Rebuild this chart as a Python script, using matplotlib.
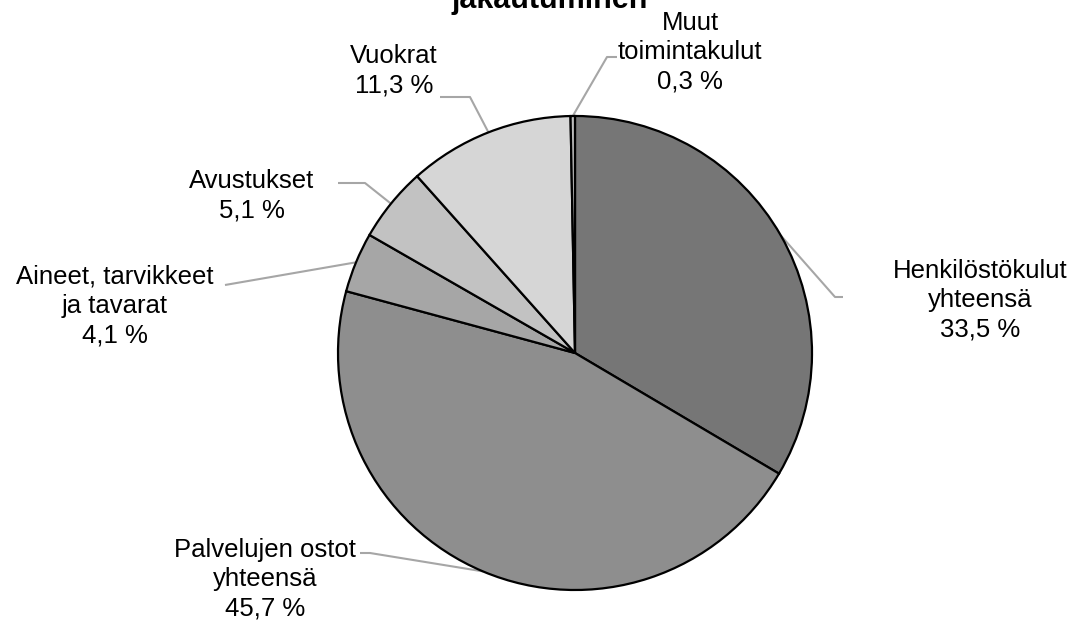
import numpy as np
import matplotlib
matplotlib.use("Agg")
import matplotlib.pyplot as plt

plt.rcParams['font.family'] = ['Liberation Sans', 'DejaVu Sans']

categories = ["Henkilöstökulut\nyhteensä", "Palvelujen ostot\nyhteensä",
              "Aineet, tarvikkeet\nja tavarat", "Avustukset", "Vuokrat",
              "Muut\ntoimintakulut"]
values = [33.5, 45.7, 4.1, 5.1, 11.3, 0.3]
colors = ["#767676", "#8e8e8e", "#a6a6a6", "#c2c2c2", "#d6d6d6", "#bdbdbd"]
title = "jakautuminen"

W, H = 1079, 622
fig = plt.figure(figsize=(W / 100, H / 100), dpi=100)
ax = fig.add_axes([0, 0, 1, 1])

cx, cy, R = 575, H - 353, 237
wedges, _ = ax.pie(values, colors=colors, startangle=90, counterclock=False,
                   center=(cx, cy), radius=R, frame=True,
                   wedgeprops=dict(edgecolor='black', linewidth=1.6))
ax.set_xlim(0, W)
ax.set_ylim(0, H)
ax.set_aspect('equal')
ax.axis('off')

# label text positions (pixel coords from top), elbow and end of leader lines
label_pos = [(980, 300), (265, 579), (115, 306), (252, 196), (394, 71), (690, 52)]
elbows = [(835, 297), (370, 553), None, (365, 183), (470, 97), (607, 57)]
ends = [(843, 297), (360, 553), (225, 285), (338, 183), (440, 97), (617, 57)]

for w, val, cat, lp, el, en in zip(wedges, values, categories, label_pos, elbows, ends):
    ang = np.deg2rad((w.theta1 + w.theta2) / 2)
    ax_pt = (cx + R * np.cos(ang), cy + R * np.sin(ang))
    pts = [ax_pt]
    if el is not None:
        pts.append((el[0], H - el[1]))
    pts.append((en[0], H - en[1]))
    xs, ys = zip(*pts)
    ax.plot(xs, ys, color='#a6a6a6', lw=1.5, zorder=0.5, solid_capstyle='butt')
    txt = f"{cat}\n{val:.1f} %".replace('.', ',')
    ax.text(lp[0], H - lp[1], txt, ha='center', va='center', fontsize=18.5,
            linespacing=1.28, color='black')

ax.text(550, H, title, ha='center', va='center', fontsize=22,
        fontweight='bold', color='black')

fig.savefig("out.png", dpi=100)
